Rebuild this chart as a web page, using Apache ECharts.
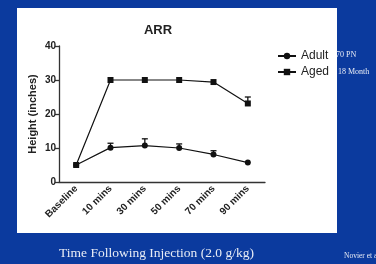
<!DOCTYPE html>
<html>
<head>
<meta charset="utf-8">
<script src="https://cdn.jsdelivr.net/npm/echarts@6/dist/echarts.min.js"></script>
<style>
  html, body { margin: 0; padding: 0; }
  body { width: 376px; height: 264px; background: #0b3a9e; position: relative; overflow: hidden; }
  #panel { position: absolute; left: 17px; top: 8px; width: 320px; height: 225px; background: #fff; }
  #chart { position: absolute; left: 0; top: 0; width: 376px; height: 264px; }
</style>
</head>
<body>
<div id="panel"></div>
<div id="chart"></div>
<script>
// ARR - height vs time after injection
const categories = ['Baseline', '10 mins', '30 mins', '50 mins', '70 mins', '90 mins'];
const adultMean = [5.0, 10.1, 10.7, 10.0, 8.1, 5.7];
const adultUpper = [null, 11.4, 12.7, 11.2, 9.2, null];
const agedMean = [5.0, 30.0, 30.0, 30.0, 29.4, 23.1];
const agedUpper = [null, null, null, null, null, 25.0];
const yTicks = [0, 10, 20, 30, 40];

const chart = echarts.init(document.getElementById('chart'));

function errData(mean, upper) {
  return mean.map((m, i) => [i, m, upper[i]]).filter(d => d[2] != null);
}

function errRender(params, api) {
  const p0 = api.coord([api.value(0), api.value(1)]);
  const p1 = api.coord([api.value(0), api.value(2)]);
  const cap = 3;
  const style = { stroke: '#111', lineWidth: 1.3 };
  return {
    type: 'group',
    children: [
      { type: 'line', shape: { x1: p0[0], y1: p0[1], x2: p1[0], y2: p1[1] }, style },
      { type: 'line', shape: { x1: p1[0] - cap, y1: p1[1], x2: p1[0] + cap, y2: p1[1] }, style }
    ]
  };
}

const labelFont = { fontFamily: 'Liberation Sans, Arial, sans-serif', fontWeight: 'bold', color: '#222' };

const option = {
  animation: false,
  backgroundColor: 'transparent',
  title: {
    text: 'ARR', left: 153, top: 19, textAlign: 'center',
    textStyle: { ...labelFont, fontSize: 13 }
  },
  legend: {
    orient: 'vertical', left: 272, top: 45, itemGap: 4,
    itemWidth: 18, itemHeight: 8,
    data: ['Adult', 'Aged'],
    textStyle: { fontFamily: 'Liberation Sans, Arial, sans-serif', fontSize: 12, color: '#222', padding: [0, 0, 0, 0] }
  },
  grid: { left: 59, right: 111, top: 46, bottom: 82 },
  xAxis: {
    type: 'category',
    data: categories,
    boundaryGap: true,
    axisLine: { lineStyle: { color: '#333', width: 1.3 } },
    axisTick: { alignWithLabel: true, length: 3, lineStyle: { color: '#333', width: 1.3 } },
    axisLabel: { ...labelFont, fontSize: 10, rotate: 45, interval: 0, margin: 5 },
    splitLine: { show: false }
  },
  yAxis: {
    type: 'value',
    min: yTicks[0], max: yTicks[yTicks.length - 1], interval: 10,
    name: 'Height (inches)', nameLocation: 'middle', nameGap: 21, nameMoveOverlap: false,
    nameTextStyle: { ...labelFont, fontSize: 11 },
    axisLine: { show: true, lineStyle: { color: '#333', width: 1.3 } },
    axisTick: { show: true, length: 4, lineStyle: { color: '#333', width: 1.3 } },
    axisLabel: { ...labelFont, fontSize: 10, margin: 3 },
    splitLine: { show: false }
  },
  series: [
    {
      name: 'Adult', type: 'line', data: adultMean,
      symbol: 'circle', symbolSize: 6,
      itemStyle: { color: '#111' }, lineStyle: { color: '#111', width: 1.2 }, z: 3
    },
    {
      name: 'Aged', type: 'line', data: agedMean,
      symbol: 'rect', symbolSize: 6,
      itemStyle: { color: '#111' }, lineStyle: { color: '#111', width: 1.2 }, z: 3
    },
    { type: 'custom', renderItem: errRender, data: errData(adultMean, adultUpper), z: 2 },
    { type: 'custom', renderItem: errRender, data: errData(agedMean, agedUpper), z: 2 }
  ],
  graphic: [
    { type: 'text', left: 336, top: 51, style: { text: '70 PN', fill: '#e8ecf5', font: '8px "Liberation Serif", serif' } },
    { type: 'text', left: 338, top: 68, style: { text: '18 Month', fill: '#e8ecf5', font: '8px "Liberation Serif", serif' } },
    { type: 'text', left: 59, top: 246, style: { text: 'Time Following Injection (2.0 g/kg)', fill: '#e8ecf5', font: '13.5px "Liberation Serif", serif' } },
    { type: 'text', left: 344, top: 252, style: { text: 'Novier et al.', fill: '#e8ecf5', font: '7.5px "Liberation Serif", serif' } }
  ]
};

chart.setOption(option);
</script>
</body>
</html>
